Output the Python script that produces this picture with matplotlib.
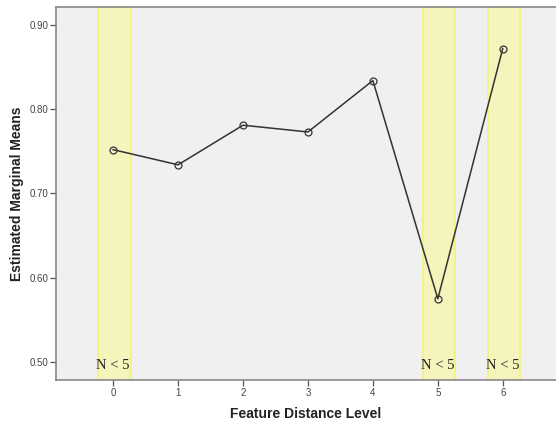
import matplotlib
matplotlib.use("Agg")
import matplotlib.pyplot as plt

levels = [0, 1, 2, 3, 4, 5, 6]
means = [0.752, 0.734, 0.781, 0.773, 0.834, 0.575, 0.872]
small_n_levels = [0, 5, 6]
y_ticks = [0.50, 0.60, 0.70, 0.80, 0.90]

plt.rcParams['font.family'] = ['Liberation Sans', 'DejaVu Sans']

fig = plt.figure(figsize=(5.56, 4.24), dpi=100)
ax = fig.add_axes([56 / 556, 44 / 424, 500 / 556, 373 / 424])
ax.set_facecolor('#f0f0f0')

# highlight bands for levels with few cases
for lv in small_n_levels:
    ax.axvspan(lv - 0.23, lv + 0.27, facecolor='#f4f4bc', edgecolor='#f2f27a',
               linewidth=1.2, zorder=1)
    ax.text(lv, 0.488, 'N < 5', family='Liberation Serif', fontsize=10.5,
            ha='center', va='bottom', color='#222222', zorder=3)

ax.plot(levels, means, color='#333333', linewidth=1.1, marker='o',
        markersize=5, markerfacecolor='none', markeredgecolor='#333333',
        markeredgewidth=0.9, zorder=2)

ax.set_xlim(-0.88, 6.82)
ax.set_ylim(0.4786, 0.9213)
ax.set_xticks(levels)
ax.set_yticks(y_ticks)
ax.set_yticklabels([f'{v:.2f}' for v in y_ticks])
ax.tick_params(axis='both', direction='out', length=4, width=0.9,
               color='#555555', labelsize=7, labelcolor='#444444', pad=1.5)

for side in ['left', 'bottom', 'top']:
    ax.spines[side].set_color('#888888')
    ax.spines[side].set_linewidth(1.2)
ax.spines['right'].set_visible(False)

ax.set_xlabel('Feature Distance Level', fontsize=10, fontweight='bold',
              color='#222222', labelpad=7)
ax.set_ylabel('Estimated Marginal Means', fontsize=10, fontweight='bold',
              color='#222222', labelpad=4)

fig.savefig('out.png', dpi=100)
